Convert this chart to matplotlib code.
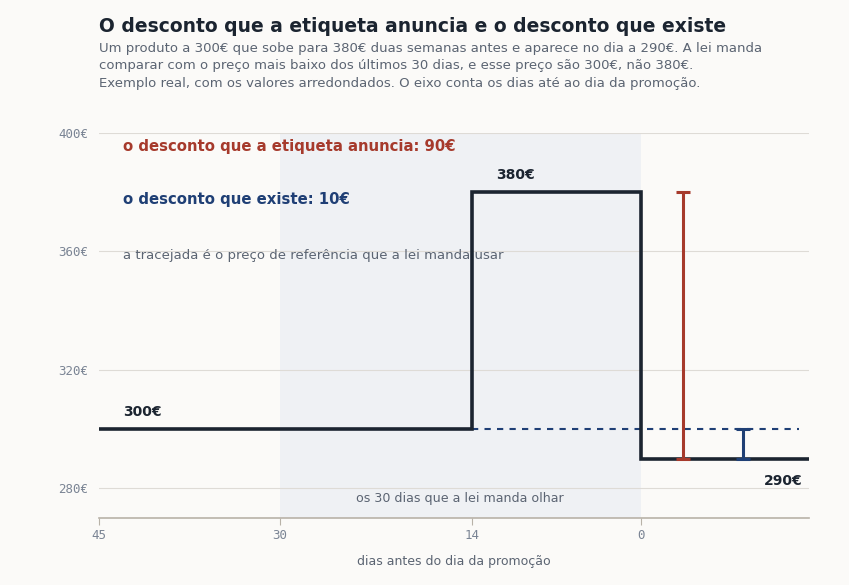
import matplotlib.pyplot as plt

# dias antes do dia da promoção (negativo = depois)
step_days = [45, 14, 0, -14]
step_prices = [300, 380, 290, 290]
ref_price = 300
ref_days = [14, -13.2]
promo_price = 290
anunciado_day = -3.5
anunciado_top = 380
existe_day = -8.5
window_days = [30, 0]
x_ticks = [45, 30, 14, 0]
y_ticks = [280, 320, 360, 400]

bg = '#fbfaf8'
dark = '#1b2430'
red = '#a63a2c'
blue = '#1f3f75'
gray = '#5b6472'

fig = plt.figure(figsize=(8.49, 5.85), dpi=100, facecolor=bg)
ax = fig.add_axes([99 / 849, 1 - 518 / 585, 710 / 849, 385 / 585])
ax.set_facecolor(bg)

ax.axvspan(window_days[0], window_days[1], color='#eff1f4', zorder=0, lw=0)
for y in y_ticks:
    ax.axhline(y, color='#dedbd6', lw=0.8, zorder=1)

ax.plot(step_days, step_prices, drawstyle='steps-post', color=dark, lw=2.6, zorder=3,
        solid_joinstyle='miter')
ax.plot(ref_days, [ref_price, ref_price], color=blue, lw=1.5, ls=(0, (3, 3)), zorder=2)

ax.errorbar([anunciado_day], [(anunciado_top + promo_price) / 2],
            yerr=[[(anunciado_top - promo_price) / 2]], color=red, lw=2.2,
            capsize=5, capthick=2.2, zorder=4)
ax.errorbar([existe_day], [(ref_price + promo_price) / 2],
            yerr=[[(ref_price - promo_price) / 2]], color=blue, lw=2.2,
            capsize=5, capthick=2.2, zorder=4)

ax.set_xlim(45, -14)
ax.set_ylim(270, 400)
ax.set_xticks(x_ticks)
ax.set_xticklabels([str(d) for d in x_ticks], family='DejaVu Sans Mono', color='#7a8494', fontsize=9)
ax.set_yticks(y_ticks)
ax.set_yticklabels([f'{y}€' for y in y_ticks], family='DejaVu Sans Mono', color='#7a8494', fontsize=9)
ax.tick_params(axis='y', length=0, pad=8)
ax.tick_params(axis='x', length=5, color='#b8b2a8', pad=3)
for s in ['left', 'right', 'top']:
    ax.spines[s].set_visible(False)
ax.spines['bottom'].set_color('#b8b2a8')
ax.spines['bottom'].set_linewidth(1.2)
ax.set_xlabel('dias antes do dia da promoção', color=gray, fontsize=9, labelpad=9)

ax.text(43, 304.5, '300€', fontsize=10, fontweight='bold', color=dark)
ax.text(12, 384.5, '380€', fontsize=10, fontweight='bold', color=dark)
ax.text(-13.5, 282.5, '290€', fontsize=10, fontweight='bold', color=dark, ha='right', va='center')

ax.text(43, 395.5, 'o desconto que a etiqueta anuncia: 90€', fontsize=10.7, fontweight='bold',
        color=red, va='center')
ax.text(43, 377.5, 'o desconto que existe: 10€', fontsize=10.7, fontweight='bold',
        color=blue, va='center')
ax.text(43, 358.5, 'a tracejada é o preço de referência que a lei manda usar', fontsize=9.5,
        color=gray, va='center')
ax.text(15, 276.5, 'os 30 dias que a lei manda olhar', fontsize=9.1, color=gray,
        ha='center', va='center')

fig.text(99 / 849, 1 - 26 / 585, 'O desconto que a etiqueta anuncia e o desconto que existe',
         fontsize=13.5, fontweight='bold', color=dark, va='center')
fig.text(99 / 849, 1 - 42 / 585,
         'Um produto a 300€ que sobe para 380€ duas semanas antes e aparece no dia a 290€. A lei manda\n'
         'comparar com o preço mais baixo dos últimos 30 dias, e esse preço são 300€, não 380€.\n'
         'Exemplo real, com os valores arredondados. O eixo conta os dias até ao dia da promoção.',
         fontsize=9.5, color=gray, va='top', linespacing=1.43)

fig.savefig('out.png', dpi=100, facecolor=bg)
